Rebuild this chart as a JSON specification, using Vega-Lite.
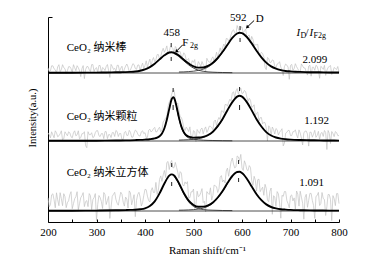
{
"$schema":"https://vega.github.io/schema/vega-lite/v6.json",
"width":291,"height":205,
"autosize":{"type":"none"},
"padding":{"left":48,"top":17,"right":27,"bottom":42},
"background":"white",
"config":{"view":{"stroke":null}},
"datasets":{
"raw":[
{"s":"a","x":200,"y":155.2},{"s":"a","x":205,"y":152.2},{"s":"a","x":210,"y":157.2},{"s":"a","x":215,"y":153.2},{"s":"a","x":220,"y":156.2},{"s":"a","x":225,"y":151.3},{"s":"a","x":230,"y":158.3},{"s":"a","x":235,"y":154.3},{"s":"a","x":240,"y":152.3},{"s":"a","x":245,"y":156.3},{"s":"a","x":250,"y":150.3},{"s":"a","x":255,"y":155.3},{"s":"a","x":260,"y":157.3},{"s":"a","x":265,"y":152.3},{"s":"a","x":270,"y":154.4},{"s":"a","x":275,"y":144.4},{"s":"a","x":280,"y":156.4},{"s":"a","x":285,"y":153.4},{"s":"a","x":290,"y":158.4},{"s":"a","x":295,"y":151.4},{"s":"a","x":300,"y":155.4},{"s":"a","x":305,"y":157.5},{"s":"a","x":310,"y":150.5},{"s":"a","x":315,"y":154.5},{"s":"a","x":320,"y":156.5},{"s":"a","x":325,"y":152.5},{"s":"a","x":330,"y":158.6},{"s":"a","x":335,"y":153.6},{"s":"a","x":340,"y":151.7},{"s":"a","x":345,"y":157.7},{"s":"a","x":350,"y":154.8},{"s":"a","x":355,"y":149.8},{"s":"a","x":360,"y":156.9},{"s":"a","x":365,"y":156.0},{"s":"a","x":370,"y":153.1},{"s":"a","x":375,"y":159.3},{"s":"a","x":380,"y":154.5},{"s":"a","x":385,"y":157.9},{"s":"a","x":390,"y":152.3},{"s":"a","x":395,"y":159.9},{"s":"a","x":400,"y":157.6},{"s":"a","x":405,"y":155.7},{"s":"a","x":410,"y":163.9},{"s":"a","x":415,"y":162.6},{"s":"a","x":420,"y":161.3},{"s":"a","x":425,"y":168.4},{"s":"a","x":430,"y":163.6},{"s":"a","x":435,"y":171.6},{"s":"a","x":440,"y":170.7},{"s":"a","x":445,"y":177.1},{"s":"a","x":450,"y":171.5},{"s":"a","x":455,"y":175.8},{"s":"a","x":460,"y":169.2},{"s":"a","x":465,"y":174.8},{"s":"a","x":470,"y":171.4},{"s":"a","x":475,"y":166.3},{"s":"a","x":480,"y":170.2},{"s":"a","x":485,"y":163.3},{"s":"a","x":490,"y":164.5},{"s":"a","x":495,"y":158.1},{"s":"a","x":500,"y":160.7},{"s":"a","x":505,"y":153.0},{"s":"a","x":510,"y":161.4},{"s":"a","x":515,"y":156.4},{"s":"a","x":520,"y":158.5},{"s":"a","x":525,"y":151.3},{"s":"a","x":530,"y":162.1},{"s":"a","x":535,"y":160.6},{"s":"a","x":540,"y":166.2},{"s":"a","x":545,"y":165.6},{"s":"a","x":550,"y":165.0},{"s":"a","x":555,"y":175.1},{"s":"a","x":560,"y":175.2},{"s":"a","x":565,"y":175.7},{"s":"a","x":570,"y":184.3},{"s":"a","x":575,"y":183.7},{"s":"a","x":580,"y":192.1},{"s":"a","x":585,"y":190.3},{"s":"a","x":590,"y":197.5},{"s":"a","x":595,"y":191.3},{"s":"a","x":600,"y":195.9},{"s":"a","x":605,"y":192.0},{"s":"a","x":610,"y":186.0},{"s":"a","x":615,"y":187.8},{"s":"a","x":620,"y":186.6},{"s":"a","x":625,"y":178.0},{"s":"a","x":630,"y":178.3},{"s":"a","x":635,"y":168.0},{"s":"a","x":640,"y":170.7},{"s":"a","x":645,"y":166.0},{"s":"a","x":650,"y":153.4},{"s":"a","x":655,"y":164.5},{"s":"a","x":660,"y":160.6},{"s":"a","x":665,"y":162.5},{"s":"a","x":670,"y":155.3},{"s":"a","x":675,"y":159.6},{"s":"a","x":680,"y":155.9},{"s":"a","x":685,"y":147.5},{"s":"a","x":690,"y":159.0},{"s":"a","x":695,"y":155.8},{"s":"a","x":700,"y":157.6},{"s":"a","x":705,"y":152.5},{"s":"a","x":710,"y":159.3},{"s":"a","x":715,"y":154.2},{"s":"a","x":720,"y":151.1},{"s":"a","x":725,"y":157.0},{"s":"a","x":730,"y":154.9},{"s":"a","x":735,"y":147.9},{"s":"a","x":740,"y":157.8},{"s":"a","x":745,"y":155.8},{"s":"a","x":750,"y":152.7},{"s":"a","x":755,"y":156.7},{"s":"a","x":760,"y":144.7},{"s":"a","x":765,"y":155.6},{"s":"a","x":770,"y":157.6},{"s":"a","x":775,"y":152.6},{"s":"a","x":780,"y":156.5},{"s":"a","x":785,"y":148.5},{"s":"a","x":790,"y":155.5},{"s":"a","x":795,"y":153.5},{"s":"a","x":800,"y":150.5},
{"s":"a","x":202.5,"y":151.2},{"s":"a","x":207.5,"y":157.2},{"s":"a","x":212.5,"y":154.2},{"s":"a","x":217.5,"y":150.2},{"s":"a","x":222.5,"y":158.3},{"s":"a","x":227.5,"y":153.3},{"s":"a","x":232.5,"y":155.3},{"s":"a","x":237.5,"y":149.3},{"s":"a","x":242.5,"y":156.3},{"s":"a","x":247.5,"y":154.3},{"s":"a","x":252.5,"y":158.3},{"s":"a","x":257.5,"y":152.3},{"s":"a","x":262.5,"y":155.3},{"s":"a","x":267.5,"y":146.4},{"s":"a","x":272.5,"y":157.4},{"s":"a","x":277.5,"y":153.4},{"s":"a","x":282.5,"y":156.4},{"s":"a","x":287.5,"y":151.4},{"s":"a","x":292.5,"y":158.4},{"s":"a","x":297.5,"y":154.4},{"s":"a","x":302.5,"y":150.5},{"s":"a","x":307.5,"y":157.5},{"s":"a","x":312.5,"y":155.5},{"s":"a","x":317.5,"y":152.5},{"s":"a","x":322.5,"y":158.5},{"s":"a","x":327.5,"y":145.6},{"s":"a","x":332.5,"y":156.6},{"s":"a","x":337.5,"y":154.7},{"s":"a","x":342.5,"y":157.7},{"s":"a","x":347.5,"y":151.8},{"s":"a","x":352.5,"y":156.8},{"s":"a","x":357.5,"y":153.9},{"s":"a","x":362.5,"y":159.0},{"s":"a","x":367.5,"y":151.1},{"s":"a","x":372.5,"y":156.2},{"s":"a","x":377.5,"y":158.4},{"s":"a","x":382.5,"y":153.7},{"s":"a","x":387.5,"y":158.1},{"s":"a","x":392.5,"y":156.6},{"s":"a","x":397.5,"y":154.3},{"s":"a","x":402.5,"y":162.2},{"s":"a","x":407.5,"y":160.3},{"s":"a","x":412.5,"y":156.8},{"s":"a","x":417.5,"y":165.5},{"s":"a","x":422.5,"y":163.4},{"s":"a","x":427.5,"y":168.5},{"s":"a","x":432.5,"y":166.6},{"s":"a","x":437.5,"y":174.7},{"s":"a","x":442.5,"y":173.4},{"s":"a","x":447.5,"y":168.8},{"s":"a","x":452.5,"y":176.7},{"s":"a","x":457.5,"y":174.5},{"s":"a","x":462.5,"y":176.5},{"s":"a","x":467.5,"y":169.1},{"s":"a","x":472.5,"y":171.4},{"s":"a","x":477.5,"y":166.3},{"s":"a","x":482.5,"y":168.3},{"s":"a","x":487.5,"y":163.4},{"s":"a","x":492.5,"y":156.8},{"s":"a","x":497.5,"y":162.4},{"s":"a","x":502.5,"y":163.4},{"s":"a","x":507.5,"y":155.7},{"s":"a","x":512.5,"y":159.4},{"s":"a","x":517.5,"y":161.5},{"s":"a","x":522.5,"y":156.9},{"s":"a","x":527.5,"y":164.7},{"s":"a","x":532.5,"y":160.9},{"s":"a","x":537.5,"y":164.4},{"s":"a","x":542.5,"y":161.4},{"s":"a","x":547.5,"y":170.8},{"s":"a","x":552.5,"y":170.6},{"s":"a","x":557.5,"y":170.7},{"s":"a","x":562.5,"y":179.0},{"s":"a","x":567.5,"y":184.5},{"s":"a","x":572.5,"y":182.0},{"s":"a","x":577.5,"y":188.4},{"s":"a","x":582.5,"y":193.2},{"s":"a","x":587.5,"y":188.4},{"s":"a","x":592.5,"y":193.9},{"s":"a","x":597.5,"y":196.1},{"s":"a","x":602.5,"y":190.0},{"s":"a","x":607.5,"y":194.0},{"s":"a","x":612.5,"y":187.4},{"s":"a","x":617.5,"y":180.2},{"s":"a","x":622.5,"y":183.8},{"s":"a","x":627.5,"y":178.2},{"s":"a","x":632.5,"y":178.7},{"s":"a","x":637.5,"y":168.4},{"s":"a","x":642.5,"y":169.4},{"s":"a","x":647.5,"y":155.7},{"s":"a","x":652.5,"y":165.5},{"s":"a","x":657.5,"y":160.6},{"s":"a","x":662.5,"y":163.1},{"s":"a","x":667.5,"y":156.9},{"s":"a","x":672.5,"y":159.0},{"s":"a","x":677.5,"y":161.3},{"s":"a","x":682.5,"y":152.7},{"s":"a","x":687.5,"y":156.3},{"s":"a","x":692.5,"y":157.9},{"s":"a","x":697.5,"y":143.7},{"s":"a","x":702.5,"y":158.6},{"s":"a","x":707.5,"y":154.4},{"s":"a","x":712.5,"y":156.3},{"s":"a","x":717.5,"y":152.2},{"s":"a","x":722.5,"y":159.1},{"s":"a","x":727.5,"y":155.0},{"s":"a","x":732.5,"y":150.9},{"s":"a","x":737.5,"y":156.9},{"s":"a","x":742.5,"y":146.8},{"s":"a","x":747.5,"y":155.8},{"s":"a","x":752.5,"y":157.7},{"s":"a","x":757.5,"y":152.7},{"s":"a","x":762.5,"y":156.7},{"s":"a","x":767.5,"y":153.6},{"s":"a","x":772.5,"y":147.6},{"s":"a","x":777.5,"y":155.6},{"s":"a","x":782.5,"y":157.5},{"s":"a","x":787.5,"y":151.5},{"s":"a","x":792.5,"y":154.5},{"s":"a","x":797.5,"y":156.5},
{"s":"b","x":200,"y":90.2},{"s":"b","x":205,"y":85.2},{"s":"b","x":210,"y":88.2},{"s":"b","x":215,"y":92.2},{"s":"b","x":220,"y":86.2},{"s":"b","x":225,"y":89.2},{"s":"b","x":230,"y":83.2},{"s":"b","x":235,"y":91.2},{"s":"b","x":240,"y":87.2},{"s":"b","x":245,"y":90.2},{"s":"b","x":250,"y":85.2},{"s":"b","x":255,"y":92.2},{"s":"b","x":260,"y":88.2},{"s":"b","x":265,"y":84.2},{"s":"b","x":270,"y":89.3},{"s":"b","x":275,"y":91.3},{"s":"b","x":280,"y":75.3},{"s":"b","x":285,"y":88.3},{"s":"b","x":290,"y":90.3},{"s":"b","x":295,"y":86.3},{"s":"b","x":300,"y":92.3},{"s":"b","x":305,"y":87.3},{"s":"b","x":310,"y":89.4},{"s":"b","x":315,"y":84.4},{"s":"b","x":320,"y":91.4},{"s":"b","x":325,"y":88.4},{"s":"b","x":330,"y":85.4},{"s":"b","x":335,"y":90.4},{"s":"b","x":340,"y":92.5},{"s":"b","x":345,"y":86.5},{"s":"b","x":350,"y":89.5},{"s":"b","x":355,"y":83.5},{"s":"b","x":360,"y":91.6},{"s":"b","x":365,"y":87.6},{"s":"b","x":370,"y":90.7},{"s":"b","x":375,"y":85.8},{"s":"b","x":380,"y":92.9},{"s":"b","x":385,"y":89.0},{"s":"b","x":390,"y":87.1},{"s":"b","x":395,"y":92.2},{"s":"b","x":400,"y":90.4},{"s":"b","x":405,"y":85.6},{"s":"b","x":410,"y":93.8},{"s":"b","x":415,"y":92.2},{"s":"b","x":420,"y":95.6},{"s":"b","x":425,"y":91.4},{"s":"b","x":430,"y":95.8},{"s":"b","x":435,"y":93.5},{"s":"b","x":440,"y":102.7},{"s":"b","x":445,"y":106.2},{"s":"b","x":450,"y":121.1},{"s":"b","x":455,"y":128.8},{"s":"b","x":460,"y":132.9},{"s":"b","x":465,"y":118.6},{"s":"b","x":470,"y":112.4},{"s":"b","x":475,"y":105.5},{"s":"b","x":480,"y":94.9},{"s":"b","x":485,"y":95.8},{"s":"b","x":490,"y":91.4},{"s":"b","x":495,"y":86.8},{"s":"b","x":500,"y":92.4},{"s":"b","x":505,"y":81.4},{"s":"b","x":510,"y":91.5},{"s":"b","x":515,"y":93.8},{"s":"b","x":520,"y":89.2},{"s":"b","x":525,"y":96.1},{"s":"b","x":530,"y":93.0},{"s":"b","x":535,"y":96.6},{"s":"b","x":540,"y":93.3},{"s":"b","x":545,"y":103.0},{"s":"b","x":550,"y":102.8},{"s":"b","x":555,"y":103.4},{"s":"b","x":560,"y":112.0},{"s":"b","x":565,"y":118.4},{"s":"b","x":570,"y":116.8},{"s":"b","x":575,"y":123.8},{"s":"b","x":580,"y":129.9},{"s":"b","x":585,"y":125.6},{"s":"b","x":590,"y":134.4},{"s":"b","x":595,"y":133.2},{"s":"b","x":600,"y":129.4},{"s":"b","x":605,"y":132.6},{"s":"b","x":610,"y":125.9},{"s":"b","x":615,"y":124.7},{"s":"b","x":620,"y":115.6},{"s":"b","x":625,"y":118.2},{"s":"b","x":630,"y":109.8},{"s":"b","x":635,"y":102.1},{"s":"b","x":640,"y":105.5},{"s":"b","x":645,"y":100.7},{"s":"b","x":650,"y":94.9},{"s":"b","x":655,"y":97.2},{"s":"b","x":660,"y":87.5},{"s":"b","x":665,"y":93.5},{"s":"b","x":670,"y":94.5},{"s":"b","x":675,"y":88.0},{"s":"b","x":680,"y":92.4},{"s":"b","x":685,"y":77.1},{"s":"b","x":690,"y":89.8},{"s":"b","x":695,"y":92.6},{"s":"b","x":700,"y":87.4},{"s":"b","x":705,"y":91.3},{"s":"b","x":710,"y":93.2},{"s":"b","x":715,"y":85.1},{"s":"b","x":720,"y":90.0},{"s":"b","x":725,"y":78.0},{"s":"b","x":730,"y":91.9},{"s":"b","x":735,"y":88.9},{"s":"b","x":740,"y":90.8},{"s":"b","x":745,"y":85.8},{"s":"b","x":750,"y":92.7},{"s":"b","x":755,"y":87.7},{"s":"b","x":760,"y":83.6},{"s":"b","x":765,"y":90.6},{"s":"b","x":770,"y":92.5},{"s":"b","x":775,"y":73.5},{"s":"b","x":780,"y":89.5},{"s":"b","x":785,"y":91.5},{"s":"b","x":790,"y":86.4},{"s":"b","x":795,"y":90.4},{"s":"b","x":800,"y":87.4},
{"s":"b","x":202.5,"y":88.2},{"s":"b","x":207.5,"y":91.2},{"s":"b","x":212.5,"y":85.2},{"s":"b","x":217.5,"y":90.2},{"s":"b","x":222.5,"y":87.2},{"s":"b","x":227.5,"y":92.2},{"s":"b","x":232.5,"y":84.2},{"s":"b","x":237.5,"y":89.2},{"s":"b","x":242.5,"y":91.2},{"s":"b","x":247.5,"y":86.2},{"s":"b","x":252.5,"y":90.2},{"s":"b","x":257.5,"y":87.2},{"s":"b","x":262.5,"y":92.2},{"s":"b","x":267.5,"y":85.3},{"s":"b","x":272.5,"y":89.3},{"s":"b","x":277.5,"y":77.3},{"s":"b","x":282.5,"y":91.3},{"s":"b","x":287.5,"y":88.3},{"s":"b","x":292.5,"y":85.3},{"s":"b","x":297.5,"y":90.3},{"s":"b","x":302.5,"y":92.3},{"s":"b","x":307.5,"y":86.4},{"s":"b","x":312.5,"y":89.4},{"s":"b","x":317.5,"y":91.4},{"s":"b","x":322.5,"y":84.4},{"s":"b","x":327.5,"y":88.4},{"s":"b","x":332.5,"y":90.4},{"s":"b","x":337.5,"y":86.5},{"s":"b","x":342.5,"y":91.5},{"s":"b","x":347.5,"y":89.5},{"s":"b","x":352.5,"y":83.5},{"s":"b","x":357.5,"y":90.6},{"s":"b","x":362.5,"y":87.6},{"s":"b","x":367.5,"y":92.7},{"s":"b","x":372.5,"y":85.8},{"s":"b","x":377.5,"y":89.9},{"s":"b","x":382.5,"y":92.0},{"s":"b","x":387.5,"y":87.1},{"s":"b","x":392.5,"y":91.2},{"s":"b","x":397.5,"y":89.3},{"s":"b","x":402.5,"y":85.5},{"s":"b","x":407.5,"y":92.7},{"s":"b","x":412.5,"y":91.0},{"s":"b","x":417.5,"y":94.4},{"s":"b","x":422.5,"y":91.0},{"s":"b","x":427.5,"y":94.1},{"s":"b","x":432.5,"y":91.2},{"s":"b","x":437.5,"y":101.1},{"s":"b","x":442.5,"y":105.0},{"s":"b","x":447.5,"y":116.5},{"s":"b","x":452.5,"y":123.5},{"s":"b","x":457.5,"y":132.5},{"s":"b","x":462.5,"y":123.5},{"s":"b","x":467.5,"y":120.0},{"s":"b","x":472.5,"y":106.0},{"s":"b","x":477.5,"y":101.7},{"s":"b","x":482.5,"y":92.4},{"s":"b","x":487.5,"y":94.1},{"s":"b","x":492.5,"y":96.1},{"s":"b","x":497.5,"y":84.6},{"s":"b","x":502.5,"y":91.4},{"s":"b","x":507.5,"y":93.5},{"s":"b","x":512.5,"y":89.7},{"s":"b","x":517.5,"y":95.0},{"s":"b","x":522.5,"y":93.7},{"s":"b","x":527.5,"y":90.6},{"s":"b","x":532.5,"y":96.8},{"s":"b","x":537.5,"y":95.5},{"s":"b","x":542.5,"y":101.7},{"s":"b","x":547.5,"y":97.4},{"s":"b","x":552.5,"y":105.6},{"s":"b","x":557.5,"y":112.2},{"s":"b","x":562.5,"y":110.2},{"s":"b","x":567.5,"y":118.6},{"s":"b","x":572.5,"y":120.8},{"s":"b","x":577.5,"y":121.9},{"s":"b","x":582.5,"y":131.3},{"s":"b","x":587.5,"y":132.0},{"s":"b","x":592.5,"y":128.8},{"s":"b","x":597.5,"y":134.8},{"s":"b","x":602.5,"y":130.0},{"s":"b","x":607.5,"y":131.3},{"s":"b","x":612.5,"y":121.8},{"s":"b","x":617.5,"y":122.7},{"s":"b","x":622.5,"y":116.4},{"s":"b","x":627.5,"y":107.0},{"s":"b","x":632.5,"y":111.0},{"s":"b","x":637.5,"y":105.3},{"s":"b","x":642.5,"y":99.1},{"s":"b","x":647.5,"y":100.3},{"s":"b","x":652.5,"y":82.1},{"s":"b","x":657.5,"y":95.4},{"s":"b","x":662.5,"y":96.0},{"s":"b","x":667.5,"y":89.0},{"s":"b","x":672.5,"y":93.3},{"s":"b","x":677.5,"y":90.7},{"s":"b","x":682.5,"y":94.3},{"s":"b","x":687.5,"y":80.0},{"s":"b","x":692.5,"y":90.7},{"s":"b","x":697.5,"y":92.5},{"s":"b","x":702.5,"y":87.4},{"s":"b","x":707.5,"y":91.3},{"s":"b","x":712.5,"y":88.2},{"s":"b","x":717.5,"y":93.1},{"s":"b","x":722.5,"y":85.0},{"s":"b","x":727.5,"y":90.0},{"s":"b","x":732.5,"y":91.9},{"s":"b","x":737.5,"y":76.9},{"s":"b","x":742.5,"y":90.8},{"s":"b","x":747.5,"y":88.8},{"s":"b","x":752.5,"y":85.7},{"s":"b","x":757.5,"y":91.7},{"s":"b","x":762.5,"y":89.6},{"s":"b","x":767.5,"y":86.6},{"s":"b","x":772.5,"y":90.5},{"s":"b","x":777.5,"y":92.5},{"s":"b","x":782.5,"y":79.5},{"s":"b","x":787.5,"y":89.5},{"s":"b","x":792.5,"y":91.4},{"s":"b","x":797.5,"y":87.4},
{"s":"c","x":200,"y":25.2},{"s":"c","x":205,"y":18.2},{"s":"c","x":210,"y":29.2},{"s":"c","x":215,"y":15.2},{"s":"c","x":220,"y":23.2},{"s":"c","x":225,"y":30.3},{"s":"c","x":230,"y":17.3},{"s":"c","x":235,"y":26.3},{"s":"c","x":240,"y":20.3},{"s":"c","x":245,"y":28.3},{"s":"c","x":250,"y":14.3},{"s":"c","x":255,"y":24.3},{"s":"c","x":260,"y":31.3},{"s":"c","x":265,"y":19.3},{"s":"c","x":270,"y":27.3},{"s":"c","x":275,"y":16.4},{"s":"c","x":280,"y":22.4},{"s":"c","x":285,"y":29.4},{"s":"c","x":290,"y":13.4},{"s":"c","x":295,"y":25.4},{"s":"c","x":300,"y":2.4},{"s":"c","x":305,"y":27.5},{"s":"c","x":310,"y":21.5},{"s":"c","x":315,"y":30.5},{"s":"c","x":320,"y":18.5},{"s":"c","x":325,"y":26.6},{"s":"c","x":330,"y":15.6},{"s":"c","x":335,"y":28.7},{"s":"c","x":340,"y":23.7},{"s":"c","x":345,"y":17.8},{"s":"c","x":350,"y":30.8},{"s":"c","x":355,"y":20.9},{"s":"c","x":360,"y":25.9},{"s":"c","x":365,"y":15.0},{"s":"c","x":370,"y":30.1},{"s":"c","x":375,"y":23.2},{"s":"c","x":380,"y":6.3},{"s":"c","x":385,"y":28.6},{"s":"c","x":390,"y":25.8},{"s":"c","x":395,"y":20.3},{"s":"c","x":400,"y":33.7},{"s":"c","x":405,"y":26.9},{"s":"c","x":410,"y":21.0},{"s":"c","x":415,"y":35.3},{"s":"c","x":420,"y":30.6},{"s":"c","x":425,"y":28.6},{"s":"c","x":430,"y":43.6},{"s":"c","x":435,"y":41.6},{"s":"c","x":440,"y":52.5},{"s":"c","x":445,"y":60.5},{"s":"c","x":450,"y":53.4},{"s":"c","x":455,"y":62.6},{"s":"c","x":460,"y":55.5},{"s":"c","x":465,"y":55.7},{"s":"c","x":470,"y":44.8},{"s":"c","x":475,"y":49.9},{"s":"c","x":480,"y":37.0},{"s":"c","x":485,"y":39.2},{"s":"c","x":490,"y":25.3},{"s":"c","x":495,"y":31.2},{"s":"c","x":500,"y":34.0},{"s":"c","x":505,"y":18.2},{"s":"c","x":510,"y":26.3},{"s":"c","x":515,"y":30.3},{"s":"c","x":520,"y":20.4},{"s":"c","x":525,"y":11.0},{"s":"c","x":530,"y":29.7},{"s":"c","x":535,"y":35.2},{"s":"c","x":540,"y":27.6},{"s":"c","x":545,"y":37.1},{"s":"c","x":550,"y":30.5},{"s":"c","x":555,"y":45.8},{"s":"c","x":560,"y":41.0},{"s":"c","x":565,"y":40.0},{"s":"c","x":570,"y":54.9},{"s":"c","x":575,"y":54.5},{"s":"c","x":580,"y":65.0},{"s":"c","x":585,"y":55.0},{"s":"c","x":590,"y":67.0},{"s":"c","x":595,"y":62.2},{"s":"c","x":600,"y":55.0},{"s":"c","x":605,"y":62.2},{"s":"c","x":610,"y":53.3},{"s":"c","x":615,"y":57.4},{"s":"c","x":620,"y":42.5},{"s":"c","x":625,"y":46.7},{"s":"c","x":630,"y":31.8},{"s":"c","x":635,"y":43.8},{"s":"c","x":640,"y":33.8},{"s":"c","x":645,"y":27.7},{"s":"c","x":650,"y":34.6},{"s":"c","x":655,"y":21.3},{"s":"c","x":660,"y":35.0},{"s":"c","x":665,"y":27.3},{"s":"c","x":670,"y":16.6},{"s":"c","x":675,"y":29.2},{"s":"c","x":680,"y":4.8},{"s":"c","x":685,"y":26.6},{"s":"c","x":690,"y":31.4},{"s":"c","x":695,"y":19.3},{"s":"c","x":700,"y":27.1},{"s":"c","x":705,"y":22.1},{"s":"c","x":710,"y":14.0},{"s":"c","x":715,"y":28.9},{"s":"c","x":720,"y":31.8},{"s":"c","x":725,"y":19.8},{"s":"c","x":730,"y":25.7},{"s":"c","x":735,"y":15.7},{"s":"c","x":740,"y":29.6},{"s":"c","x":745,"y":22.6},{"s":"c","x":750,"y":4.6},{"s":"c","x":755,"y":27.5},{"s":"c","x":760,"y":17.5},{"s":"c","x":765,"y":30.5},{"s":"c","x":770,"y":23.5},{"s":"c","x":775,"y":16.4},{"s":"c","x":780,"y":28.4},{"s":"c","x":785,"y":2.4},{"s":"c","x":790,"y":24.4},{"s":"c","x":795,"y":29.4},{"s":"c","x":800,"y":19.4},
{"s":"c","x":202.5,"y":16.2},{"s":"c","x":207.5,"y":28.2},{"s":"c","x":212.5,"y":23.2},{"s":"c","x":217.5,"y":30.2},{"s":"c","x":222.5,"y":17.3},{"s":"c","x":227.5,"y":24.3},{"s":"c","x":232.5,"y":29.3},{"s":"c","x":237.5,"y":15.3},{"s":"c","x":242.5,"y":22.3},{"s":"c","x":247.5,"y":31.3},{"s":"c","x":252.5,"y":19.3},{"s":"c","x":257.5,"y":26.3},{"s":"c","x":262.5,"y":13.3},{"s":"c","x":267.5,"y":25.3},{"s":"c","x":272.5,"y":30.4},{"s":"c","x":277.5,"y":21.4},{"s":"c","x":282.5,"y":16.4},{"s":"c","x":287.5,"y":27.4},{"s":"c","x":292.5,"y":23.4},{"s":"c","x":297.5,"y":29.4},{"s":"c","x":302.5,"y":18.5},{"s":"c","x":307.5,"y":25.5},{"s":"c","x":312.5,"y":14.5},{"s":"c","x":317.5,"y":28.5},{"s":"c","x":322.5,"y":22.6},{"s":"c","x":327.5,"y":4.6},{"s":"c","x":332.5,"y":26.7},{"s":"c","x":337.5,"y":30.7},{"s":"c","x":342.5,"y":19.8},{"s":"c","x":347.5,"y":24.8},{"s":"c","x":352.5,"y":28.9},{"s":"c","x":357.5,"y":16.9},{"s":"c","x":362.5,"y":24.0},{"s":"c","x":367.5,"y":32.1},{"s":"c","x":372.5,"y":18.2},{"s":"c","x":377.5,"y":28.3},{"s":"c","x":382.5,"y":22.5},{"s":"c","x":387.5,"y":30.7},{"s":"c","x":392.5,"y":17.1},{"s":"c","x":397.5,"y":27.5},{"s":"c","x":402.5,"y":33.3},{"s":"c","x":407.5,"y":22.5},{"s":"c","x":412.5,"y":32.2},{"s":"c","x":417.5,"y":30.5},{"s":"c","x":422.5,"y":40.6},{"s":"c","x":427.5,"y":32.6},{"s":"c","x":432.5,"y":47.1},{"s":"c","x":437.5,"y":48.1},{"s":"c","x":442.5,"y":45.5},{"s":"c","x":447.5,"y":61.5},{"s":"c","x":452.5,"y":60.0},{"s":"c","x":457.5,"y":55.1},{"s":"c","x":462.5,"y":60.6},{"s":"c","x":467.5,"y":50.8},{"s":"c","x":472.5,"y":51.4},{"s":"c","x":477.5,"y":38.5},{"s":"c","x":482.5,"y":41.1},{"s":"c","x":487.5,"y":41.3},{"s":"c","x":492.5,"y":25.3},{"s":"c","x":497.5,"y":31.1},{"s":"c","x":502.5,"y":14.6},{"s":"c","x":507.5,"y":31.8},{"s":"c","x":512.5,"y":27.3},{"s":"c","x":517.5,"y":34.4},{"s":"c","x":522.5,"y":21.7},{"s":"c","x":527.5,"y":31.4},{"s":"c","x":532.5,"y":28.5},{"s":"c","x":537.5,"y":22.9},{"s":"c","x":542.5,"y":37.9},{"s":"c","x":547.5,"y":36.3},{"s":"c","x":552.5,"y":34.2},{"s":"c","x":557.5,"y":47.4},{"s":"c","x":562.5,"y":43.0},{"s":"c","x":567.5,"y":52.0},{"s":"c","x":572.5,"y":46.7},{"s":"c","x":577.5,"y":61.3},{"s":"c","x":582.5,"y":59.0},{"s":"c","x":587.5,"y":56.0},{"s":"c","x":592.5,"y":66.1},{"s":"c","x":597.5,"y":68.6},{"s":"c","x":602.5,"y":52.6},{"s":"c","x":607.5,"y":58.8},{"s":"c","x":612.5,"y":52.4},{"s":"c","x":617.5,"y":55.5},{"s":"c","x":622.5,"y":37.6},{"s":"c","x":627.5,"y":42.8},{"s":"c","x":632.5,"y":43.3},{"s":"c","x":637.5,"y":31.3},{"s":"c","x":642.5,"y":35.8},{"s":"c","x":647.5,"y":38.7},{"s":"c","x":652.5,"y":23.0},{"s":"c","x":657.5,"y":31.7},{"s":"c","x":662.5,"y":8.7},{"s":"c","x":667.5,"y":26.0},{"s":"c","x":672.5,"y":31.4},{"s":"c","x":677.5,"y":20.0},{"s":"c","x":682.5,"y":27.7},{"s":"c","x":687.5,"y":31.5},{"s":"c","x":692.5,"y":22.4},{"s":"c","x":697.5,"y":15.2},{"s":"c","x":702.5,"y":28.1},{"s":"c","x":707.5,"y":25.1},{"s":"c","x":712.5,"y":32.0},{"s":"c","x":717.5,"y":16.9},{"s":"c","x":722.5,"y":25.8},{"s":"c","x":727.5,"y":3.8},{"s":"c","x":732.5,"y":28.7},{"s":"c","x":737.5,"y":22.7},{"s":"c","x":742.5,"y":29.6},{"s":"c","x":747.5,"y":17.6},{"s":"c","x":752.5,"y":26.6},{"s":"c","x":757.5,"y":30.6},{"s":"c","x":762.5,"y":19.5},{"s":"c","x":767.5,"y":24.5},{"s":"c","x":772.5,"y":7.5},{"s":"c","x":777.5,"y":28.5},{"s":"c","x":782.5,"y":23.4},{"s":"c","x":787.5,"y":27.4},{"s":"c","x":792.5,"y":17.4},{"s":"c","x":797.5,"y":29.4}
],
"fit":[
{"s":"a","x":200,"y":150.2},{"s":"a","x":250,"y":150.3},{"s":"a","x":300,"y":150.4},{"s":"a","x":320,"y":150.5},{"s":"a","x":340,"y":150.7},{"s":"a","x":350,"y":150.8},{"s":"a","x":360,"y":150.9},{"s":"a","x":370,"y":151.1},{"s":"a","x":380,"y":151.5},{"s":"a","x":390,"y":152.3},{"s":"a","x":400,"y":153.6},{"s":"a","x":410,"y":155.9},{"s":"a","x":420,"y":159.3},{"s":"a","x":430,"y":163.6},{"s":"a","x":440,"y":167.7},{"s":"a","x":450,"y":170.5},{"s":"a","x":455,"y":170.8},{"s":"a","x":460,"y":170.2},{"s":"a","x":470,"y":167.4},{"s":"a","x":480,"y":163.2},{"s":"a","x":490,"y":159.5},{"s":"a","x":500,"y":156.7},{"s":"a","x":510,"y":155.4},{"s":"a","x":520,"y":155.5},{"s":"a","x":530,"y":157.1},{"s":"a","x":540,"y":160.2},{"s":"a","x":550,"y":165.0},{"s":"a","x":560,"y":171.2},{"s":"a","x":570,"y":178.3},{"s":"a","x":580,"y":185.1},{"s":"a","x":590,"y":189.5},{"s":"a","x":595,"y":190.3},{"s":"a","x":600,"y":189.9},{"s":"a","x":610,"y":186.0},{"s":"a","x":620,"y":179.6},{"s":"a","x":630,"y":172.3},{"s":"a","x":640,"y":165.7},{"s":"a","x":650,"y":160.4},{"s":"a","x":660,"y":156.6},{"s":"a","x":670,"y":154.3},{"s":"a","x":680,"y":152.9},{"s":"a","x":690,"y":152.0},{"s":"a","x":700,"y":151.6},{"s":"a","x":710,"y":151.3},{"s":"a","x":720,"y":151.1},{"s":"a","x":740,"y":150.8},{"s":"a","x":760,"y":150.7},{"s":"a","x":780,"y":150.5},{"s":"a","x":800,"y":150.5},
{"s":"b","x":200,"y":82.2},{"s":"b","x":250,"y":82.2},{"s":"b","x":300,"y":82.3},{"s":"b","x":340,"y":82.5},{"s":"b","x":360,"y":82.6},{"s":"b","x":380,"y":82.9},{"s":"b","x":390,"y":83.1},{"s":"b","x":400,"y":83.4},{"s":"b","x":410,"y":83.8},{"s":"b","x":420,"y":84.6},{"s":"b","x":425,"y":85.4},{"s":"b","x":430,"y":86.8},{"s":"b","x":435,"y":89.5},{"s":"b","x":440,"y":94.7},{"s":"b","x":445,"y":103.2},{"s":"b","x":450,"y":114.1},{"s":"b","x":455,"y":123.8},{"s":"b","x":458,"y":125.8},{"s":"b","x":460,"y":124.9},{"s":"b","x":465,"y":116.6},{"s":"b","x":470,"y":105.4},{"s":"b","x":475,"y":96.5},{"s":"b","x":480,"y":90.9},{"s":"b","x":485,"y":87.8},{"s":"b","x":490,"y":86.4},{"s":"b","x":495,"y":85.8},{"s":"b","x":500,"y":85.4},{"s":"b","x":510,"y":85.5},{"s":"b","x":520,"y":86.2},{"s":"b","x":530,"y":88.0},{"s":"b","x":540,"y":91.3},{"s":"b","x":550,"y":96.8},{"s":"b","x":560,"y":104.0},{"s":"b","x":570,"y":112.8},{"s":"b","x":580,"y":120.9},{"s":"b","x":590,"y":126.4},{"s":"b","x":595,"y":127.2},{"s":"b","x":600,"y":126.4},{"s":"b","x":610,"y":120.9},{"s":"b","x":620,"y":112.6},{"s":"b","x":630,"y":103.8},{"s":"b","x":640,"y":96.5},{"s":"b","x":650,"y":90.9},{"s":"b","x":660,"y":87.5},{"s":"b","x":670,"y":85.5},{"s":"b","x":680,"y":84.4},{"s":"b","x":690,"y":83.8},{"s":"b","x":700,"y":83.4},{"s":"b","x":720,"y":83.0},{"s":"b","x":740,"y":82.8},{"s":"b","x":760,"y":82.6},{"s":"b","x":780,"y":82.5},{"s":"b","x":800,"y":82.4},
{"s":"c","x":200,"y":12.2},{"s":"c","x":250,"y":12.3},{"s":"c","x":300,"y":12.4},{"s":"c","x":340,"y":12.7},{"s":"c","x":360,"y":12.9},{"s":"c","x":370,"y":13.1},{"s":"c","x":380,"y":13.3},{"s":"c","x":390,"y":13.8},{"s":"c","x":400,"y":14.7},{"s":"c","x":410,"y":17.0},{"s":"c","x":420,"y":21.6},{"s":"c","x":430,"y":29.6},{"s":"c","x":440,"y":39.5},{"s":"c","x":450,"y":47.4},{"s":"c","x":455,"y":48.6},{"s":"c","x":460,"y":47.5},{"s":"c","x":470,"y":39.8},{"s":"c","x":480,"y":30.0},{"s":"c","x":490,"y":22.3},{"s":"c","x":500,"y":18.0},{"s":"c","x":510,"y":16.3},{"s":"c","x":520,"y":16.4},{"s":"c","x":530,"y":17.7},{"s":"c","x":540,"y":20.6},{"s":"c","x":550,"y":25.5},{"s":"c","x":560,"y":32.0},{"s":"c","x":570,"y":39.9},{"s":"c","x":580,"y":47.0},{"s":"c","x":590,"y":51.0},{"s":"c","x":595,"y":51.2},{"s":"c","x":600,"y":50.0},{"s":"c","x":610,"y":44.3},{"s":"c","x":620,"y":36.5},{"s":"c","x":630,"y":28.8},{"s":"c","x":640,"y":22.8},{"s":"c","x":650,"y":18.6},{"s":"c","x":660,"y":16.0},{"s":"c","x":670,"y":14.6},{"s":"c","x":680,"y":13.8},{"s":"c","x":690,"y":13.4},{"s":"c","x":700,"y":13.1},{"s":"c","x":720,"y":12.8},{"s":"c","x":740,"y":12.6},{"s":"c","x":760,"y":12.5},{"s":"c","x":780,"y":12.4},{"s":"c","x":800,"y":12.4}
],
"comp":[
{"c":"ab","x":200,"y":150},{"c":"ab","x":800,"y":150},
{"c":"bb","x":200,"y":82},{"c":"bb","x":800,"y":82},
{"c":"cb","x":200,"y":12},{"c":"cb","x":800,"y":12},
{"c":"a1","x":460,"y":169.4},{"c":"a1","x":470,"y":166.4},{"c":"a1","x":480,"y":162.1},{"c":"a1","x":490,"y":158.1},{"c":"a1","x":500,"y":154.9},{"c":"a1","x":510,"y":152.9},{"c":"a1","x":520,"y":151.7},{"c":"a1","x":530,"y":151.1},{"c":"a1","x":540,"y":150.8},{"c":"a1","x":550,"y":150.6},{"c":"a1","x":560,"y":150.5},{"c":"a1","x":580,"y":150.3},
{"c":"a2","x":470,"y":151.0},{"c":"a2","x":480,"y":151.1},{"c":"a2","x":490,"y":151.4},{"c":"a2","x":500,"y":151.8},{"c":"a2","x":510,"y":152.6},{"c":"a2","x":520,"y":153.8},{"c":"a2","x":530,"y":156.0},{"c":"a2","x":540,"y":159.4},{"c":"a2","x":550,"y":164.4},{"c":"a2","x":560,"y":170.7},{"c":"a2","x":570,"y":177.9},
{"c":"b1","x":465,"y":115.7},{"c":"b1","x":470,"y":104.5},{"c":"b1","x":475,"y":95.5},{"c":"b1","x":480,"y":89.8},{"c":"b1","x":485,"y":86.6},{"c":"b1","x":490,"y":85.1},{"c":"b1","x":500,"y":83.8},{"c":"b1","x":510,"y":83.2},{"c":"b1","x":520,"y":82.8},{"c":"b1","x":530,"y":82.6},{"c":"b1","x":540,"y":82.5},{"c":"b1","x":560,"y":82.3},{"c":"b1","x":580,"y":82.2},
{"c":"b2","x":470,"y":82.9},{"c":"b2","x":480,"y":83.1},{"c":"b2","x":490,"y":83.3},{"c":"b2","x":500,"y":83.7},{"c":"b2","x":510,"y":84.3},{"c":"b2","x":520,"y":85.4},{"c":"b2","x":530,"y":87.4},{"c":"b2","x":540,"y":90.9},{"c":"b2","x":550,"y":96.4},{"c":"b2","x":560,"y":103.7},
{"c":"c1","x":460,"y":46.8},{"c":"c1","x":470,"y":39.0},{"c":"c1","x":480,"y":29.1},{"c":"c1","x":490,"y":21.2},{"c":"c1","x":500,"y":16.6},{"c":"c1","x":510,"y":14.4},{"c":"c1","x":520,"y":13.45},{"c":"c1","x":530,"y":13.0},{"c":"c1","x":540,"y":12.8},{"c":"c1","x":560,"y":12.5},{"c":"c1","x":580,"y":12.4},
{"c":"c2","x":470,"y":12.8},{"c":"c2","x":480,"y":12.9},{"c":"c2","x":490,"y":13.1},{"c":"c2","x":500,"y":13.4},{"c":"c2","x":510,"y":13.9},{"c":"c2","x":520,"y":14.9},{"c":"c2","x":530,"y":16.7},{"c":"c2","x":540,"y":19.8},{"c":"c2","x":550,"y":24.8},{"c":"c2","x":560,"y":31.5},{"c":"c2","x":570,"y":39.4}
],
"ticks":[
{"x":454,"y":176,"y2":180},{"x":454,"y":162,"y2":166},
{"x":596,"y":193,"y2":197},{"x":596,"y":181,"y2":185},
{"x":458,"y":131,"y2":135},{"x":458,"y":113,"y2":118},
{"x":595,"y":132,"y2":136},{"x":595,"y":113,"y2":118},
{"x":455,"y":56,"y2":60},{"x":455,"y":37,"y2":41},
{"x":593,"y":59,"y2":63},{"x":593,"y":41,"y2":45}
],
"arrows":[
{"x":478,"y":178.3,"x2":466,"y2":172.3},
{"x":625,"y":202.5,"x2":612,"y2":196.5}
],
"heads":[
{"x":464.5,"y":171.5},
{"x":610.5,"y":195.7}
],
"tleft":[
{"x":238.6,"y":174.7,"t":"CeO₂ 纳米棒","z":11},
{"x":238.6,"y":105.7,"t":"CeO₂ 纳米颗粒","z":11},
{"x":238.6,"y":49.7,"t":"CeO₂ 纳米立方体","z":11},
{"x":720.6,"y":187,"t":"D","z":8},
{"x":730.9,"y":190.5,"t":"/","z":11},
{"x":747.4,"y":187,"t":"F2g","z":8}
],
"titalic":[
{"x":712.4,"y":190.5,"t":"I"},
{"x":739.2,"y":190.5,"t":"I"}
],
"tcenter":[
{"x":455,"y":189.7,"t":"458","z":11},
{"x":592.4,"y":205,"t":"592","z":11},
{"x":483.1,"y":180.3,"t":"F","z":11},
{"x":501,"y":177,"t":"2g","z":8},
{"x":636.5,"y":204.3,"t":"D","z":11},
{"x":750.5,"y":163,"t":"2.099","z":11},
{"x":754,"y":102.3,"t":"1.192","z":11},
{"x":743.7,"y":40.3,"t":"1.091","z":11}
]
},
"encoding":{
"x":{"field":"x","type":"quantitative","scale":{"domain":[200,800],"nice":false,"zero":false},
"axis":{"values":[200,250,300,350,400,450,500,550,600,650,700,750,800],"labelExpr":"datum.value % 100 === 0 ? datum.label : ''","tickSize":-3,"labelPadding":7,"labelFlush":false,"labelOverlap":false,"grid":false,"domainColor":"black","tickColor":"black","labelFont":"Liberation Serif","labelFontSize":11,"labelColor":"black","title":"Raman shift/cm⁻¹","titleFont":"Liberation Serif","titleFontSize":11,"titleFontWeight":"normal","titleColor":"black","titleX":159,"titleY":28,"titleBaseline":"middle","titleAlign":"center"}},
"y":{"field":"y","type":"quantitative","scale":{"domain":[1,206],"nice":false,"zero":false},
"axis":{"values":[206],"labels":false,"tickSize":-4,"grid":false,"domainColor":"black","tickColor":"black","title":"Intensity(a.u.)","titleFont":"Liberation Serif","titleFontSize":10.5,"titleFontWeight":"normal","titleColor":"black","titleX":-16,"titleY":100.5,"titleAngle":-90,"titleAlign":"center","titleBaseline":"middle"}}
},
"layer":[
{"data":{"name":"raw"},"mark":{"type":"line","color":"#c2c2c2","strokeWidth":0.7},"encoding":{"detail":{"field":"s"}}},
{"data":{"name":"comp"},"mark":{"type":"line","color":"#222222","strokeWidth":0.8,"interpolate":"monotone"},"encoding":{"detail":{"field":"c"}}},
{"data":{"name":"fit"},"mark":{"type":"line","color":"black","strokeWidth":1.9,"interpolate":"monotone"},"encoding":{"detail":{"field":"s"}}},
{"data":{"name":"ticks"},"mark":{"type":"rule","color":"#222222","strokeWidth":1},"encoding":{"y2":{"field":"y2"}}},
{"data":{"name":"arrows"},"mark":{"type":"rule","color":"black","strokeWidth":1},"encoding":{"x2":{"field":"x2"},"y2":{"field":"y2"}}},
{"data":{"name":"heads"},"mark":{"type":"point","shape":"triangle-up","filled":true,"color":"black","opacity":1,"size":14,"angle":225}},
{"data":{"name":"tleft"},"mark":{"type":"text","align":"left","baseline":"middle","font":"Liberation Serif, Noto Sans CJK SC","color":"black"},"encoding":{"text":{"field":"t"},"size":{"field":"z","type":"quantitative","scale":null}}},
{"data":{"name":"titalic"},"mark":{"type":"text","align":"left","baseline":"middle","font":"Liberation Serif","fontStyle":"italic","fontSize":11,"color":"black"},"encoding":{"text":{"field":"t"}}},
{"data":{"name":"tcenter"},"mark":{"type":"text","align":"center","baseline":"middle","font":"Liberation Serif","color":"black"},"encoding":{"text":{"field":"t"},"size":{"field":"z","type":"quantitative","scale":null}}}
]
}
